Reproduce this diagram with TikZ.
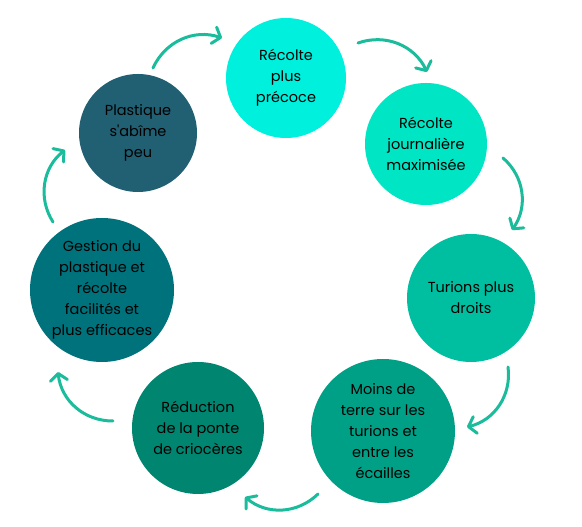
\documentclass[tikz,border=0pt]{standalone}
\usepackage{fontspec}
\setmainfont{Poppins}
\usepackage{xcolor}
\usetikzlibrary{arrows.meta}

\definecolor{stageA}{RGB}{0,240,222}
\definecolor{stageB}{RGB}{0,229,196}
\definecolor{stageC}{RGB}{0,190,160}
\definecolor{stageD}{RGB}{0,160,135}
\definecolor{stageE}{RGB}{0,134,112}
\definecolor{stageF}{RGB}{0,114,124}
\definecolor{stageG}{RGB}{33,95,115}
\definecolor{arrowteal}{RGB}{26,188,156}

\begin{document}
\begin{tikzpicture}[
		x=1pt, y=1pt,
		stage/.style={circle, draw=none, inner sep=0pt, minimum size=#1, align=center,
			font=\fontsize{14.5}{21}\selectfont, text=black},
		cycle/.style={draw=arrowteal, line width=3pt, line cap=round,
			-{Straight Barb[round, length=7pt, width=17pt]}, bend left=42},
		]
		\useasboundingbox (0,0) rectangle (582,527);

		%Stages
		\node[stage=120pt, fill=stageA]	(early)		at (286,449)	{Récolte\\plus\\précoce};
		\node[stage=122pt, fill=stageB]	(daily)		at (426,383)	{Récolte\\journalière\\maximisée};
		\node[stage=128pt, fill=stageC]	(straight)	at (471,229)	{Turions plus\\droits};
		\node[stage=144pt, fill=stageD]	(soil)		at (383,96)		{Moins de\\terre sur les\\turions et\\entre les\\écailles};
		\node[stage=132pt, fill=stageE]	(beetle)	at (198,99)		{Réduction\\de la ponte\\de criocères};
		\node[stage=144pt, fill=stageF]	(handling)	at (102,237)	{Gestion du\\plastique et\\récolte\\facilités et\\plus efficaces};
		\node[stage=118pt, fill=stageG]	(plastic)	at (138,394)	{Plastique\\s\textquotesingle abîme\\peu};

		%Arrow ends
		\coordinate (a1s) at (153,459);	\coordinate (a1e) at (222,489);
		\coordinate (a2s) at (358,484);	\coordinate (a2e) at (427,455);
		\coordinate (a3s) at (503,369);	\coordinate (a3e) at (512,297);
		\coordinate (a4s) at (508,160);	\coordinate (a4e) at (467,100);
		\coordinate (a5s) at (318,33);	\coordinate (a5e) at (245,30);
		\coordinate (a6s) at (113,106);	\coordinate (a6e) at (58,155);
		\coordinate (a7s) at (53,305);	\coordinate (a7e) at (65,377);

		%Cycle
		\draw[cycle]	(a1s) to (a1e);
		\draw[cycle]	(a2s) to (a2e);
		\draw[cycle]	(a3s) to (a3e);
		\draw[cycle]	(a4s) to (a4e);
		\draw[cycle]	(a5s) to (a5e);
		\draw[cycle]	(a6s) to (a6e);
		\draw[cycle]	(a7s) to (a7e);
	\end{tikzpicture}
\end{document}
